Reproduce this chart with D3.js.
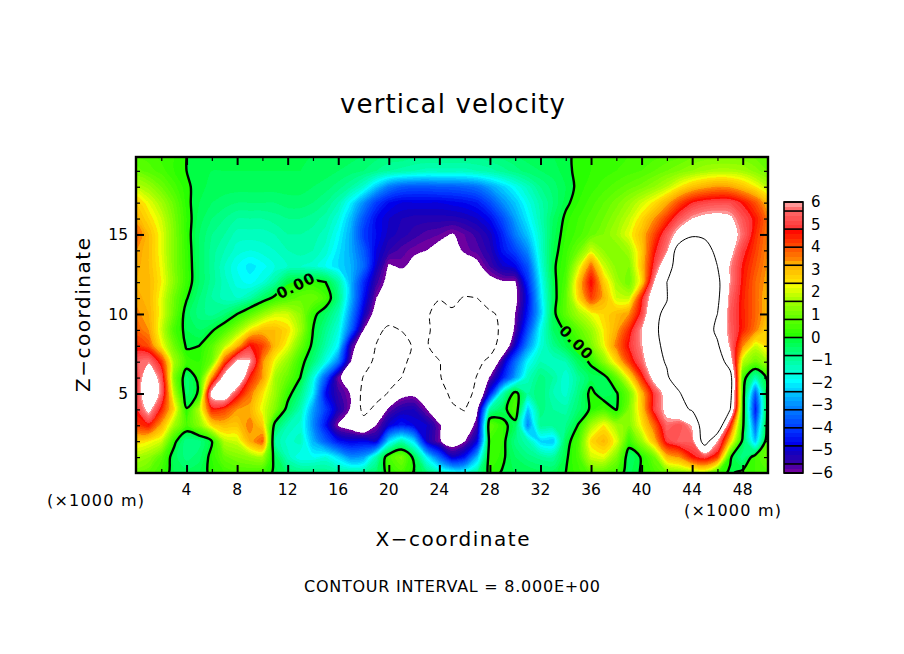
<!DOCTYPE html>
<html><head><meta charset="utf-8">
<style>html,body{margin:0;background:#fff}svg{display:block}text{font-family:"DejaVu Sans",sans-serif;fill:#000}</style>
<script src="https://cdn.jsdelivr.net/npm/d3@7"></script></head><body>
<script>
const title="vertical velocity", xTitle="X\u2212coordinate", zTitle="Z\u2212coordinate", unit="(\u00d71000 m)", note="CONTOUR INTERVAL = 8.000E+00";
const xTicks=[4,8,12,16,20,24,28,32,36,40,44,48], zTicks=[5,10,15], barLabels=[-6,-5,-4,-3,-2,-1,0,1,2,3,4,5,6];
const lineLevels=[-8,0,8];
const stopValues=[-6,-5.6,-5.2,-4.8,-4.2,-3.2,-2.4,-2,-1.6,-0.8,-0.01,0,0.8,1.6,2.3,2.4,3.2,3.3,4,4.7,4.8,5.6,5.8];
const stopColors=["#6e00a0","#3200aa","#1400be","#0000eb","#0032ff","#0082ff","#00d2ff","#00ffff","#00ffd2","#00ff82","#00ff32","#28ff00","#64ff00","#aaff00","#ffff00","#ffe000","#ffaa00","#ff8c00","#ff4600","#ff0000","#ff3838","#ff6e6e","#ff9898"];
const z20=[.6,.5,.3,.2,0,-.1,-.1,-.1,-.1,-.1,-.1,-.1,-.1,-.1,-.2,-.2,-.3,-.3,-.4,-.5,-.6,-.6,-.7,-.7,-.7,-.7,-.7,-.7,-.6,-.5,-.4,-.3,-.3,-.2,-.1,.1,.2,.2,.3,.4,.4,.5,.6,.7,.9,1,1,1,1,.9,.7];
const z19=[.9,.7,.5,.2,0,-.1,-.2,-.2,-.2,-.2,-.2,-.2,-.2,-.2,-.3,-.3,-.4,-.5,-.6,-.8,-1,-1.1,-1.2,-1.3,-1.3,-1.3,-1.3,-1.2,-1.1,-.9,-.7,-.5,-.4,-.3,-.1,.1,.2,.3,.4,.5,.6,.8,1,1.2,1.4,1.6,1.7,1.7,1.6,1.3,1];
const z18=[1.8,1.5,1,.5,.05,-.1,-.3,-.3,-.3,-.3,-.3,-.3,-.3,-.3,-.4,-.5,-.7,-1,-1.5,-2.4,-3.2,-3.6,-3.7,-3.7,-3.6,-3.6,-3.5,-3.3,-2.8,-2.3,-1.8,-1.3,-.8,-.5,-.2,.1,.3,.5,.7,.9,1.1,1.4,1.8,2.4,2.9,3.2,3.4,3.3,2.9,2.4,1.8];
const z17=[2.8,2.2,1.6,.9,.1,-.2,-.4,-.5,-.6,-.6,-.6,-.6,-.5,-.5,-.6,-.8,-1.2,-2,-3,-4,-4.6,-4.8,-4.8,-4.8,-4.8,-4.7,-4.6,-4.4,-3.8,-3,-2.4,-1.7,-1.1,-.6,-.1,.2,.5,.8,1.1,1.5,2,2.5,3.2,4.1,4.8,5.1,5.2,5.2,4.7,4,3];
const z16=[3.2,2.6,2,1.1,.2,-.3,-.6,-.8,-1,-1,-1,-.9,-.8,-.8,-.9,-1.1,-1.6,-2.5,-3.7,-4.6,-5,-5.2,-5.3,-5.3,-5.3,-5.3,-5.2,-5,-4.6,-3.8,-2.8,-2,-1.2,-.4,.1,.4,.7,1,1.4,1.9,2.6,3.4,4.3,5.3,6,6.3,6.4,6.2,5.3,4.6,3.6];
const z15=[3.8,3,2.2,1.2,.2,-.4,-.8,-1,-1.3,-1.3,-1.3,-1.2,-1,-1,-1.1,-1.3,-1.9,-2.7,-4,-4.6,-5.1,-5.3,-5.5,-5.7,-5.8,-6.05,-5.8,-5.5,-5.1,-4.3,-3.2,-2.4,-1.4,-.3,.2,.5,.9,1.2,1.6,2.2,3,4.1,5.3,6.5,7.6,7.6,7.3,6.6,5.6,4.4,3.5];
const z14=[3.4,3,2.2,1.2,.25,-.4,-.9,-1.2,-1.5,-1.6,-1.5,-1.4,-1.2,-1.1,-1.2,-1.5,-2.1,-2.7,-3.6,-4.8,-5.4,-5.7,-5.9,-6,-6.3,-6.3,-5.9,-5.7,-5.3,-4.5,-3.9,-3,-1.5,-.2,.3,1,2,1.4,1.2,1.6,2.8,4.6,5.8,9.3,10.4,8.9,7.4,6.4,5,4.2,3.4];
const z13=[3.3,3,2.3,1.2,.3,-.4,-.9,-1.4,-1.8,-2.1,-1.9,-1.6,-1.4,-1.4,-1.5,-1.8,-2.2,-2.6,-3.4,-5,-6.1,-5.9,-6.2,-6.4,-6.7,-6.7,-6.5,-6.2,-5.6,-5,-4.7,-3.7,-1.7,-.1,.4,2,3.8,2,1.3,1.2,2.9,5,7.2,9,10,10,8,5.9,4.7,4,3.3];
const z12=[3.2,3.1,2.4,1.3,.3,-.4,-.9,-1.3,-1.7,-1.9,-1.6,-1,-.1,.1,.2,0,-1,-2.6,-4.2,-5.5,-6.3,-6.6,-6.8,-7,-7.1,-7.2,-7.1,-6.7,-6.3,-6.1,-6.1,-4.2,-2,-.2,.6,2.8,4.8,2.8,1.6,1,2.6,6,8,10,11,11,8.5,5.9,4.6,3.8,3.2];
const z11=[3.3,3.1,2.2,1,.05,-.6,-1,-1.3,-1.4,-1.1,-.4,.2,.6,.9,1,.5,-.7,-2.6,-4.5,-6,-6.7,-7,-7.2,-7.4,-7.9,-7.7,-8.1,-8,-7,-6.7,-6.3,-4.6,-2.2,-.3,.8,2.6,4.2,3.2,2,1.9,4.6,7,7.9,10.5,11.5,11.5,8.4,5.6,4.5,3.8,3];
const z10=[3.5,3.2,2.2,.9,-.3,-.7,-.9,-.6,0,.7,1.4,2,2,1.4,.2,-.4,-1.2,-3,-5,-6.5,-7.2,-7.4,-7.6,-7.8,-8.6,-8.2,-8.1,-8.2,-8.3,-7.6,-6,-4.4,-2.4,-.2,.8,1.6,2.2,2.6,3,3.4,5,7.6,8.4,11,11.5,11,8,5.4,4.5,3.8,3];
const z09=[3.8,3.4,2,.5,-.2,-.4,-.1,.5,1.4,2.4,3,3,2.6,1.6,0,-.8,-1.6,-3.5,-6,-7.6,-8.3,-7.95,-7.5,-7.8,-8.5,-8.8,-9,-9,-8.6,-7.7,-5.8,-3.8,-1.8,-.4,.1,.8,1.5,2.4,3.2,4.4,6,7.6,8.8,11,11.5,9.2,7.5,5.5,4.5,3.6,2.6];
const z08=[4.4,4,2.4,1,-.1,0,.7,1.8,3,4.8,4.2,3,2.2,1,-.2,-1.1,-2,-5.5,-7,-8.05,-8.5,-8.7,-7.8,-7.9,-8.6,-9,-9.2,-9.2,-8.7,-7.2,-5,-3,-1.6,-.8,-.2,.3,1.1,2.2,3.6,4.8,5.9,7.4,8.6,10.5,11,10,8.3,5.8,3.5,2,2.6];
const z07=[5.5,5.8,4.4,1.6,.4,.2,1,4,6.3,6.1,3.5,2.2,1.4,.3,-.6,-1.7,-3.2,-6,-7.2,-8.4,-8.9,-8.4,-7.5,-7.4,-7.95,-8.7,-9,-8.4,-7.6,-5.3,-3.4,-1.9,-1.2,-1.4,-1.2,-.3,.1,1.3,2.6,4.2,5.5,7.2,8.2,10,11,11,9.5,6.8,1.8,1,1.6];
const z06=[4.8,7.2,5.4,1.2,-.5,.2,3.4,6.6,7.8,4.6,3.4,1.6,.9,0,-1.6,-3.6,-5.9,-6.4,-8.1,-8.6,-8.5,-8,-7.2,-6.9,-7.9,-8.6,-8.9,-7.9,-5.9,-4.4,-2.8,-1.3,-.7,-1,-1.6,-.9,-.3,-.3,.8,2.4,4.4,6.5,7.7,9.5,11,12,11,9,.4,-1.2,.2];
const z05=[4.8,7.6,5.6,1.8,-.5,.1,6.6,7.2,5,3.7,2.5,1.5,.3,-.7,-2,-4.6,-5.5,-6.05,-8.6,-8.6,-7.9,-6.3,-6.2,-6.5,-7.2,-8.4,-8.6,-7.6,-4.5,-1.2,.3,-1,-.6,-1.2,-1.5,-.7,.2,-.4,-.1,1,3,5,6.6,7.8,10,11.5,11.5,8.9,.4,-3.6,.3];
const z04=[4.8,6.4,4.5,2.6,.05,1.8,4.5,4.2,3.4,3.2,2.2,1.2,-.3,-1.2,-2.8,-4,-5.2,-6.1,-8.5,-7.6,-5.8,-5.3,-5.2,-6,-7,-7.7,-8.1,-6.2,-1,-.3,.6,-2.4,-.7,-1,-1.1,-.5,.1,.5,-.05,1.2,2.8,5,6.4,7.4,8.2,10,10.5,8.1,.4,-4.5,.3];
const z03=[4.2,4.6,3.2,1.6,.5,1.3,2.6,3,2.9,3.6,2.8,-.3,-1.2,-1.5,-3,-4.5,-6.1,-6.5,-7.2,-6,-4.9,-4.4,-4.8,-5,-5.9,-7,-7,-5.6,.8,.2,-.3,-3.1,-.9,-.9,-.8,.05,1.6,2.4,1.6,1.2,2.4,3.8,5.6,5.2,6.1,9.5,10,4.6,.2,-3.5,.4];
const z02=[2.6,2.4,2,.2,-.8,-.7,0,1.8,2,3.2,3.9,-1,-1.5,-1.3,-2.6,-3.6,-4.5,-4.8,-4.7,-5,-2.2,-1.2,-2.2,-5,-5.9,-6.6,-6.05,-4.8,.4,.2,-.7,-1.2,-2.3,-2.4,-.3,.5,2.6,3.1,2.2,.3,1.5,3,5,5.5,5.5,9,6,2.8,-.2,-2.5,.7];
const z01=[1.6,1.4,.7,-.3,-.7,-.5,.2,.9,1.2,1.4,1.6,-.3,-1.3,-1.8,-1.8,-1.6,-2.2,-3,-2.8,-1.2,.5,1.1,-.2,-2,-3.5,-5,-4.5,-2.5,.4,.1,-.4,-.7,-.9,-1,-.1,.5,2,2.2,1.2,-.4,.05,1,3,3.4,4.6,5.1,4.2,.1,-.8,.4,1];
const z00=[1,.8,.3,-.2,-.3,-.2,.1,.4,.5,.5,.3,-.1,-.5,-.7,-.7,-.8,-1,-1,-.9,-.5,.2,.5,-.05,-.6,-1.2,-1.6,-1.6,-.9,.2,-.05,-.2,-.2,-.3,-.3,0,.3,.7,.7,.4,-.3,.05,.5,1,1.3,1.5,1.7,.3,-.1,.2,.4,.5];
const rows=[z00,z01,z02,z03,z04,z05,z06,z07,z08,z09,z10,z11,z12,z13,z14,z15,z16,z17,z18,z19,z20];
const labelText=["0.00","0.00"], labelX=[12.65,34.85], labelZ=[11.8,8.2], labelAngle=[-26,46];

const W=904,H=654, nx=rows[0].length, nz=rows.length;
const x=d3.scaleLinear().domain([0,50]).range([136,768]);
const z=d3.scaleLinear().domain([0,19.87]).range([473,157]);
const bar=d3.scaleLinear().domain([-6,6]).range([473,202]);
const color=d3.scaleLinear().domain(stopValues).range(stopColors).clamp(true);
const values=rows.flat();
const bands=d3.range(0,60).map(i=>+(-6+i*0.2).toFixed(1));
const svg=d3.select("body").append("svg").attr("width",W).attr("height",H).attr("viewBox",[0,0,W,H]);
const defs=svg.append("defs");
defs.append("clipPath").attr("id","plot").append("rect").attr("x",x(0)).attr("y",z(19.87)).attr("width",x(50)-x(0)).attr("height",z(0)-z(19.87));
const ringLine=d3.line().curve(d3.curveCatmullRomClosed.alpha(.5));
const shape=m=>m.coordinates.map(poly=>poly.map(r=>ringLine(r.slice(0,-1).map(([a,b])=>[x(a-.5),z(b-.5)]))).join("")).join("");
const contours=d3.contours().size([nx,nz]).smooth(true);
const g=svg.append("g").attr("clip-path","url(#plot)");
g.append("rect").attr("x",x(0)).attr("y",z(19.87)).attr("width",x(50)-x(0)).attr("height",z(0)-z(19.87)).attr("fill","#fff");
g.selectAll("path.band").data(contours.thresholds(bands)(values)).join("path").attr("class","band")
 .attr("d",shape).attr("fill",d=>color(d.value)).attr("stroke",d=>color(d.value)).attr("stroke-width",.3).attr("shape-rendering","crispEdges");
g.append("path").datum(contours.thresholds([6])(values)[0]).attr("d",shape).attr("fill","#fff").attr("shape-rendering","crispEdges");
const mask=defs.append("mask").attr("id","gaps").attr("maskUnits","userSpaceOnUse").attr("x",0).attr("y",0).attr("width",W).attr("height",H);
mask.append("rect").attr("width",W).attr("height",H).attr("fill","#fff");
labelText.forEach((t,i)=>mask.append("rect").attr("x",-21).attr("y",-9).attr("width",42).attr("height",18).attr("fill","#000")
  .attr("transform",`translate(${x(labelX[i])},${z(labelZ[i])}) rotate(${labelAngle[i]})`));
const lines=contours.thresholds(lineLevels)(values);
const lg=g.append("g").attr("mask","url(#gaps)");
lg.selectAll("path").data(lines).join("path").attr("d",shape).attr("fill","none").attr("stroke","#000")
 .attr("stroke-width",d=>d.value===0?2.4:1).attr("stroke-dasharray",d=>d.value<0?"6,4":null);
labelText.forEach((t,i)=>svg.append("text").text(t).attr("text-anchor","middle").attr("dy","0.36em").attr("font-size",15).attr("font-weight","bold")
  .attr("letter-spacing",1).attr("transform",`translate(${x(labelX[i])},${z(labelZ[i])}) rotate(${labelAngle[i]})`));
function ax(gen,tx,ty,vals,size){const a=svg.append("g").attr("transform",`translate(${tx},${ty})`).call(gen.tickValues(vals).tickSize(-size).tickPadding(0).tickFormat(""));
 a.select(".domain").remove();a.selectAll("line").attr("stroke","#000").attr("stroke-width",size>5?2:1.2);a.selectAll("text").remove();}
const xMinor=d3.range(2,50,4), zMinor=d3.range(1,20).filter(v=>v%5);
ax(d3.axisBottom(x),0,473,xTicks,8);ax(d3.axisBottom(x),0,473,xMinor,4);
ax(d3.axisTop(x),0,157,xTicks,8);ax(d3.axisTop(x),0,157,xMinor,4);
ax(d3.axisLeft(z),136,0,zTicks,8);ax(d3.axisLeft(z),136,0,zMinor,4);
ax(d3.axisRight(z),768,0,zTicks,8);ax(d3.axisRight(z),768,0,zMinor,4);
svg.append("rect").attr("x",x(0)).attr("y",z(19.87)).attr("width",x(50)-x(0)).attr("height",z(0)-z(19.87)).attr("fill","none").attr("stroke","#000").attr("stroke-width",2.4);
const lab=(t,px,py,size,anchor,len)=>{const e=svg.append("text").text(t).attr("x",px).attr("y",py).attr("font-size",size).attr("text-anchor",anchor||"middle");if(len)e.attr("textLength",len).attr("lengthAdjust","spacing");return e;};
xTicks.forEach(v=>lab(v,x(v),495,15.5));
zTicks.forEach(v=>lab(v,128,z(v)+6,15.5,"end"));
lab(title,452.5,113,26,"middle",225);
lab(xTitle,452.5,546,20,"middle",154);
lab(zTitle,0,0,20,"middle",154).attr("transform","translate(90,315) rotate(-90)");
lab(unit,95.5,506,16,"middle",97);
lab(unit,732.5,516,16,"middle",97);
lab(note,452,592,16,"middle",296);
const cb=svg.append("g");
cb.selectAll("rect").data(bands).join("rect").attr("x",784).attr("width",19).attr("y",d=>bar(d+.2)).attr("height",d=>bar(d)-bar(d+.2)+.5).attr("fill",d=>color(d)).attr("shape-rendering","crispEdges");
const seps=[-6,-5.6,-4.8,-4,-3.2,-2.4,-1.6,-.8,0,.8,1.6,2.4,3.2,4,4.8,5.6,6];
cb.selectAll("line").data(seps).join("line").attr("x1",784).attr("x2",803).attr("y1",d=>bar(d)).attr("y2",d=>bar(d)).attr("stroke","#000").attr("stroke-width",1.6);
cb.append("rect").attr("x",784).attr("y",bar(6)).attr("width",19).attr("height",bar(-6)-bar(6)).attr("fill","none").attr("stroke","#000").attr("stroke-width",1.6);
barLabels.forEach(v=>lab(String(v).replace("-","\u2212"),811,bar(v)+5,15,"start"));
</script></body></html>
